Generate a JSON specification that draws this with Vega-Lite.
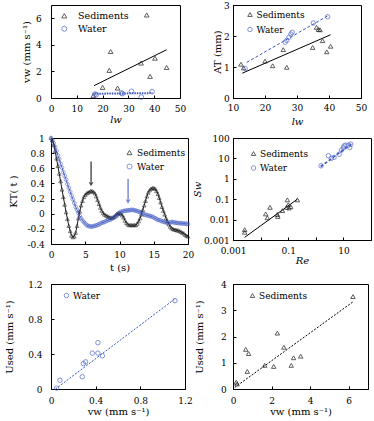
{
"$schema":"https://vega.github.io/schema/vega-lite/v6.json",
"padding":{"left":4,"top":0,"right":0,"bottom":0},
"background":"white",
"config":{
 "font":"DejaVu Serif, serif",
 "view":{"stroke":"#000","strokeWidth":1},
 "axis":{"labelFont":"DejaVu Serif, serif","titleFont":"DejaVu Serif, serif","labelFontSize":9,"titleFontSize":10,"titleFontWeight":"normal","labelColor":"#000","titleColor":"#000","domainColor":"#000","tickColor":"#000","grid":false,"tickSize":-3,"labelFlush":false,"labelOverlap":false},
 "legend":{"labelFont":"DejaVu Serif, serif","labelFontSize":9,"labelColor":"#000","padding":0,"symbolStrokeWidth":1,"labelOffset":2,"rowPadding":3},
 "text":{"font":"DejaVu Serif, serif"}
},
"columns":2,"align":"each","bounds":"flush","spacing":{"row":40,"column":45},
"resolve":{"scale":{"color":"independent","shape":"independent"},"legend":{"color":"independent","shape":"independent"}},
"datasets":{
 "aPts":[
  {"lw":16.4,"vw":0.18,"series":"Sediments"},{"lw":20.0,"vw":0.8,"series":"Sediments"},{"lw":22.6,"vw":2.08,"series":"Sediments"},{"lw":23.1,"vw":3.5,"series":"Sediments"},{"lw":25.8,"vw":0.75,"series":"Sediments"},{"lw":34.9,"vw":2.63,"series":"Sediments"},{"lw":37.1,"vw":6.25,"series":"Sediments"},{"lw":38.4,"vw":1.63,"series":"Sediments"},{"lw":40.3,"vw":3.0,"series":"Sediments"},{"lw":44.8,"vw":2.3,"series":"Sediments"},
  {"lw":17.0,"vw":0.3,"series":"Water"},{"lw":17.5,"vw":0.25,"series":"Water"},{"lw":27.3,"vw":0.38,"series":"Water"},{"lw":27.7,"vw":0.33,"series":"Water"},{"lw":31.2,"vw":0.5,"series":"Water"},{"lw":35.0,"vw":0.07,"series":"Water"},{"lw":39.2,"vw":0.48,"series":"Water"}
 ],
 "aFitS":[{"lw":16.7,"vw":0.93},{"lw":44.8,"vw":3.63}],
 "aFitW":[{"lw":16.8,"vw":0.32},{"lw":39.3,"vw":0.37}],
 "bPts":[
  {"lw":12.5,"at":1.09,"series":"Sediments"},{"lw":13.3,"at":0.97,"series":"Sediments"},{"lw":20.0,"at":1.19,"series":"Sediments"},{"lw":22.4,"at":1.04,"series":"Sediments"},{"lw":25.7,"at":1.56,"series":"Sediments"},{"lw":26.8,"at":0.99,"series":"Sediments"},{"lw":34.9,"at":1.63,"series":"Sediments"},{"lw":36.1,"at":2.28,"series":"Sediments"},{"lw":36.7,"at":2.21,"series":"Sediments"},{"lw":37.2,"at":2.2,"series":"Sediments"},{"lw":38.0,"at":1.85,"series":"Sediments"},{"lw":39.3,"at":1.49,"series":"Sediments"},{"lw":40.5,"at":1.67,"series":"Sediments"},
  {"lw":13.8,"at":0.95,"series":"Water"},{"lw":26.3,"at":1.8,"series":"Water"},{"lw":26.8,"at":1.86,"series":"Water"},{"lw":27.5,"at":1.96,"series":"Water"},{"lw":28.1,"at":2.06,"series":"Water"},{"lw":28.5,"at":2.12,"series":"Water"},{"lw":35.1,"at":2.42,"series":"Water"},{"lw":39.6,"at":2.62,"series":"Water"}
 ],
 "bFitS":[{"lw":12.9,"at":0.8},{"lw":40.5,"at":2.04}],
 "bFitW":[{"lw":14.3,"at":1.15},{"lw":39.6,"at":2.65}],
 "c":[
  {"t":0,"Sediments":1.0,"Water":1.0},{"t":0.2,"Sediments":0.97,"Water":0.97},{"t":0.4,"Sediments":0.91,"Water":0.93},{"t":0.6,"Sediments":0.83,"Water":0.88},{"t":0.8,"Sediments":0.73,"Water":0.83},
  {"t":1.0,"Sediments":0.63,"Water":0.77},{"t":1.2,"Sediments":0.53,"Water":0.72},{"t":1.4,"Sediments":0.43,"Water":0.66},{"t":1.6,"Sediments":0.32,"Water":0.61},{"t":1.8,"Sediments":0.22,"Water":0.55},
  {"t":2.0,"Sediments":0.12,"Water":0.5},{"t":2.2,"Sediments":0.02,"Water":0.45},{"t":2.4,"Sediments":-0.07,"Water":0.39},{"t":2.6,"Sediments":-0.16,"Water":0.34},{"t":2.8,"Sediments":-0.23,"Water":0.29},
  {"t":3.0,"Sediments":-0.29,"Water":0.24},{"t":3.2,"Sediments":-0.31,"Water":0.19},{"t":3.4,"Sediments":-0.3,"Water":0.14},{"t":3.6,"Sediments":-0.25,"Water":0.09},{"t":3.8,"Sediments":-0.16,"Water":0.05},
  {"t":4.0,"Sediments":-0.06,"Water":0.01},{"t":4.2,"Sediments":0.03,"Water":-0.03},{"t":4.4,"Sediments":0.11,"Water":-0.06},{"t":4.6,"Sediments":0.17,"Water":-0.09},{"t":4.8,"Sediments":0.22,"Water":-0.11},
  {"t":5.0,"Sediments":0.25,"Water":-0.13},{"t":5.2,"Sediments":0.27,"Water":-0.15},{"t":5.4,"Sediments":0.28,"Water":-0.16},{"t":5.6,"Sediments":0.29,"Water":-0.165},{"t":5.8,"Sediments":0.3,"Water":-0.17},
  {"t":6.0,"Sediments":0.3,"Water":-0.17},{"t":6.2,"Sediments":0.29,"Water":-0.165},{"t":6.4,"Sediments":0.27,"Water":-0.16},{"t":6.6,"Sediments":0.23,"Water":-0.155},{"t":6.8,"Sediments":0.18,"Water":-0.15},
  {"t":7.0,"Sediments":0.13,"Water":-0.14},{"t":7.2,"Sediments":0.08,"Water":-0.13},{"t":7.4,"Sediments":0.04,"Water":-0.12},{"t":7.6,"Sediments":0.01,"Water":-0.115},{"t":7.8,"Sediments":-0.01,"Water":-0.11},
  {"t":8.0,"Sediments":-0.02,"Water":-0.1},{"t":8.2,"Sediments":-0.03,"Water":-0.09},{"t":8.4,"Sediments":-0.04,"Water":-0.085},{"t":8.6,"Sediments":-0.05,"Water":-0.08},{"t":8.8,"Sediments":-0.05,"Water":-0.07},
  {"t":9.0,"Sediments":-0.05,"Water":-0.06},{"t":9.2,"Sediments":-0.04,"Water":-0.05},{"t":9.4,"Sediments":-0.02,"Water":-0.04},{"t":9.6,"Sediments":0.0,"Water":-0.03},{"t":9.8,"Sediments":0.01,"Water":-0.01},
  {"t":10.0,"Sediments":0.01,"Water":0.01},{"t":10.2,"Sediments":0.0,"Water":0.025},{"t":10.4,"Sediments":-0.02,"Water":0.03},{"t":10.6,"Sediments":-0.05,"Water":0.035},{"t":10.8,"Sediments":-0.09,"Water":0.04},
  {"t":11.0,"Sediments":-0.12,"Water":0.04},{"t":11.2,"Sediments":-0.14,"Water":0.045},{"t":11.4,"Sediments":-0.15,"Water":0.045},{"t":11.6,"Sediments":-0.15,"Water":0.05},{"t":11.8,"Sediments":-0.15,"Water":0.05},
  {"t":12.0,"Sediments":-0.15,"Water":0.05},{"t":12.2,"Sediments":-0.15,"Water":0.045},{"t":12.4,"Sediments":-0.15,"Water":0.04},{"t":12.6,"Sediments":-0.13,"Water":0.035},{"t":12.8,"Sediments":-0.1,"Water":0.03},
  {"t":13.0,"Sediments":-0.06,"Water":0.02},{"t":13.2,"Sediments":-0.01,"Water":0.01},{"t":13.4,"Sediments":0.05,"Water":0.0},{"t":13.6,"Sediments":0.11,"Water":-0.01},{"t":13.8,"Sediments":0.17,"Water":-0.015},
  {"t":14.0,"Sediments":0.23,"Water":-0.02},{"t":14.2,"Sediments":0.28,"Water":-0.025},{"t":14.4,"Sediments":0.31,"Water":-0.03},{"t":14.6,"Sediments":0.33,"Water":-0.035},{"t":14.8,"Sediments":0.34,"Water":-0.04},
  {"t":15.0,"Sediments":0.34,"Water":-0.05},{"t":15.2,"Sediments":0.33,"Water":-0.06},{"t":15.4,"Sediments":0.3,"Water":-0.07},{"t":15.6,"Sediments":0.26,"Water":-0.08},{"t":15.8,"Sediments":0.21,"Water":-0.085},
  {"t":16.0,"Sediments":0.15,"Water":-0.09},{"t":16.2,"Sediments":0.09,"Water":-0.1},{"t":16.4,"Sediments":0.04,"Water":-0.105},{"t":16.6,"Sediments":-0.01,"Water":-0.11},{"t":16.8,"Sediments":-0.06,"Water":-0.115},
  {"t":17.0,"Sediments":-0.1,"Water":-0.12},{"t":17.2,"Sediments":-0.14,"Water":-0.12},{"t":17.4,"Sediments":-0.17,"Water":-0.115},{"t":17.6,"Sediments":-0.19,"Water":-0.11},{"t":17.8,"Sediments":-0.2,"Water":-0.11},
  {"t":18.0,"Sediments":-0.21,"Water":-0.115},{"t":18.2,"Sediments":-0.21,"Water":-0.12},{"t":18.4,"Sediments":-0.22,"Water":-0.12},{"t":18.6,"Sediments":-0.22,"Water":-0.125},{"t":18.8,"Sediments":-0.23,"Water":-0.125},
  {"t":19.0,"Sediments":-0.24,"Water":-0.125},{"t":19.2,"Sediments":-0.25,"Water":-0.13},{"t":19.4,"Sediments":-0.26,"Water":-0.13},{"t":19.6,"Sediments":-0.28,"Water":-0.13},{"t":19.8,"Sediments":-0.29,"Water":-0.135},
  {"t":20.0,"Sediments":-0.3,"Water":-0.135}
 ],
 "dPts":[
  {"re":0.00265,"sw":0.0032,"series":"Sediments"},{"re":0.00265,"sw":0.0024,"series":"Sediments"},{"re":0.0153,"sw":0.019,"series":"Sediments"},{"re":0.0176,"sw":0.0123,"series":"Sediments"},{"re":0.0219,"sw":0.04,"series":"Sediments"},{"re":0.0405,"sw":0.0178,"series":"Sediments"},{"re":0.042,"sw":0.0143,"series":"Sediments"},{"re":0.0617,"sw":0.0275,"series":"Sediments"},{"re":0.093,"sw":0.093,"series":"Sediments"},{"re":0.101,"sw":0.0537,"series":"Sediments"},{"re":0.107,"sw":0.037,"series":"Sediments"},{"re":0.123,"sw":0.043,"series":"Sediments"},{"re":0.087,"sw":0.04,"series":"Sediments"},{"re":0.215,"sw":0.093,"series":"Sediments"},
  {"re":1.55,"sw":4.35,"series":"Water"},{"re":2.86,"sw":13.6,"series":"Water"},{"re":3.67,"sw":10.1,"series":"Water"},{"re":4.59,"sw":11.3,"series":"Water"},{"re":6.97,"sw":15.8,"series":"Water"},{"re":8.47,"sw":25.6,"series":"Water"},{"re":10.0,"sw":33.0,"series":"Water"},{"re":10.6,"sw":41.0,"series":"Water"},{"re":12.2,"sw":44.4,"series":"Water"},{"re":15.2,"sw":44.4,"series":"Water"},{"re":17.0,"sw":34.3,"series":"Water"},{"re":18.5,"sw":50.0,"series":"Water"}
 ],
 "dFitS":[{"re":0.00265,"sw":0.00135},{"re":0.215,"sw":0.1}],
 "dFitW":[{"re":1.5,"sw":4.0},{"re":19.3,"sw":50.0}],
 "ePts":[
  {"vw":0.05,"us":0.01,"series":"Water"},{"vw":0.08,"us":0.1,"series":"Water"},{"vw":0.28,"us":0.14,"series":"Water"},{"vw":0.29,"us":0.29,"series":"Water"},{"vw":0.31,"us":0.31,"series":"Water"},{"vw":0.37,"us":0.41,"series":"Water"},{"vw":0.42,"us":0.53,"series":"Water"},{"vw":0.42,"us":0.41,"series":"Water"},{"vw":0.46,"us":0.38,"series":"Water"},{"vw":1.11,"us":1.01,"series":"Water"}
 ],
 "eFit":[{"vw":0.04,"us":0.0},{"vw":1.11,"us":1.03}],
 "fPts":[
  {"vw":0.17,"us":0.26,"series":"Sediments"},{"vw":0.21,"us":0.19,"series":"Sediments"},{"vw":0.66,"us":1.51,"series":"Sediments"},{"vw":0.81,"us":1.35,"series":"Sediments"},{"vw":0.74,"us":0.67,"series":"Sediments"},{"vw":1.64,"us":0.9,"series":"Sediments"},{"vw":2.11,"us":0.86,"series":"Sediments"},{"vw":2.3,"us":2.13,"series":"Sediments"},{"vw":2.64,"us":1.59,"series":"Sediments"},{"vw":3.02,"us":0.9,"series":"Sediments"},{"vw":3.14,"us":1.19,"series":"Sediments"},{"vw":3.51,"us":1.25,"series":"Sediments"},{"vw":6.22,"us":3.52,"series":"Sediments"}
 ],
 "fFit":[{"vw":0.09,"us":0.06},{"vw":6.22,"us":3.32}]
},
"concat":[
 {
  "width":129,"height":93,
  "encoding":{
   "x":{"field":"lw","type":"quantitative","scale":{"domain":[0,50],"nice":false},"axis":{"title":"lw","titleFontStyle":"italic","values":[0,10,20,30,40,50],"labelPadding":9,"titlePadding":1}},
   "y":{"field":"vw","type":"quantitative","scale":{"domain":[0,7],"nice":false},"axis":{"title":"vw (mm s⁻¹)","values":[0,2,4,6],"labelPadding":12.7,"titlePadding":4}}
  },
  "layer":[
   {"data":{"name":"aFitS"},"mark":{"type":"line","color":"#000","strokeWidth":1},"encoding":{}},
   {"data":{"name":"aFitW"},"mark":{"type":"line","color":"#3a55c0","strokeWidth":2,"strokeDash":[1.5,1]},"encoding":{}},
   {"data":{"name":"aPts"},"mark":{"type":"point","filled":false,"strokeWidth":1,"size":22},
    "encoding":{
     "color":{"field":"series","type":"nominal","scale":{"domain":["Sediments","Water"],"range":["#1a1a1a","#4d64c9"]},"legend":{"title":null,"orient":"none","legendX":8.5,"legendY":6,"labelFontSize":9.5,"rowPadding":2,"labelOffset":9,"symbolSize":25}},
     "shape":{"field":"series","type":"nominal","scale":{"domain":["Sediments","Water"],"range":["triangle-up","circle"]},"legend":{"title":null,"orient":"none","legendX":8.5,"legendY":6,"labelFontSize":9.5,"rowPadding":2,"labelOffset":9,"symbolSize":25}}
    }},
   {"data":{"values":[{"label":"A"}]},"mark":{"type":"text","fontSize":14,"color":"#000"},"encoding":{"x":{"datum":46.7},"y":{"datum":6.14},"text":{"field":"label"}}}
  ]
 },
 {
  "width":128,"height":93,
  "encoding":{
   "x":{"field":"lw","type":"quantitative","scale":{"domain":[10,50],"nice":false},"axis":{"title":"lw","titleFontStyle":"italic","values":[10,20,30,40,50],"labelPadding":8.7,"titlePadding":4}},
   "y":{"field":"at","type":"quantitative","scale":{"domain":[0,3],"nice":false},"axis":{"title":"AT (mm)","values":[0,1,2,3],"labelPadding":6.7,"titlePadding":1}}
  },
  "layer":[
   {"data":{"name":"bFitS"},"mark":{"type":"line","color":"#000","strokeWidth":1},"encoding":{}},
   {"data":{"name":"bFitW"},"mark":{"type":"line","color":"#3a55c0","strokeWidth":1,"strokeDash":[3,2]},"encoding":{}},
   {"data":{"name":"bPts"},"mark":{"type":"point","filled":false,"strokeWidth":1,"size":20},
    "encoding":{
     "color":{"field":"series","type":"nominal","scale":{"domain":["Sediments","Water"],"range":["#1a1a1a","#4d64c9"]},"legend":{"title":null,"orient":"none","legendX":12.5,"legendY":5,"labelFontSize":9,"rowPadding":5,"labelOffset":2,"symbolSize":20}},
     "shape":{"field":"series","type":"nominal","scale":{"domain":["Sediments","Water"],"range":["triangle-up","circle"]},"legend":{"title":null,"orient":"none","legendX":12.5,"legendY":5,"labelFontSize":9,"rowPadding":5,"labelOffset":2,"symbolSize":20}}
    }},
   {"data":{"values":[{"label":"B"}]},"mark":{"type":"text","fontSize":13,"color":"#000"},"encoding":{"x":{"datum":48.7},"y":{"datum":2.65},"text":{"field":"label"}}}
  ]
 },
 {
  "width":137,"height":106,
  "encoding":{
   "x":{"field":"t","type":"quantitative","scale":{"domain":[0,20],"nice":false},"axis":{"title":"t (s)","values":[0,5,10,15,20],"labelPadding":9.4,"titlePadding":3}},
   "y":{"field":"K","type":"quantitative","scale":{"domain":[-0.4,1],"nice":false},"axis":{"title":"KT( t )","values":[-0.4,-0.2,0,0.2,0.4,0.6,0.8,1],"format":".1~f","labelExpr":"replace(datum.label,'−','-')","labelPadding":9.7,"titlePadding":8.5}}
  },
  "layer":[
   {"data":{"name":"c"},"transform":[{"fold":["Water"],"as":["series","K"]}],"mark":{"type":"line","color":"#4d64c9","strokeWidth":1},"encoding":{}},
   {"data":{"name":"c"},"transform":[{"fold":["Sediments"],"as":["series","K"]}],"mark":{"type":"line","color":"#1a1a1a","strokeWidth":1},"encoding":{}},
   {"data":{"name":"c"},"transform":[{"fold":["Sediments","Water"],"as":["series","K"]}],"mark":{"type":"point","filled":false,"strokeWidth":0.8,"size":14},
    "encoding":{
     "color":{"field":"series","type":"nominal","scale":{"domain":["Sediments","Water"],"range":["#1a1a1a","#4d64c9"]},"legend":{"title":null,"orient":"none","legendX":74,"legendY":10,"labelFontSize":9,"rowPadding":4,"labelOffset":3,"symbolSize":25}},
     "shape":{"field":"series","type":"nominal","scale":{"domain":["Sediments","Water"],"range":["triangle-up","circle"]},"legend":{"title":null,"orient":"none","legendX":74,"legendY":10,"labelFontSize":9,"rowPadding":4,"labelOffset":3,"symbolSize":25}}
    }},
   {"data":{"values":[{"t":5.85,"K":0.69,"K2":0.42}]},"mark":{"type":"rule","color":"#000","strokeWidth":1},"encoding":{"y2":{"field":"K2"}}},
   {"data":{"values":[{"t":5.85,"K":0.39}]},"mark":{"type":"point","shape":"triangle-down","filled":true,"color":"#000","size":22},"encoding":{}},
   {"data":{"values":[{"t":11.25,"K":0.46,"K2":0.19}]},"mark":{"type":"rule","color":"#3a55c0","strokeWidth":1},"encoding":{"y2":{"field":"K2"}}},
   {"data":{"values":[{"t":11.25,"K":0.16}]},"mark":{"type":"point","shape":"triangle-down","filled":true,"color":"#3a55c0","size":22},"encoding":{}},
   {"data":{"values":[{"label":"C"}]},"mark":{"type":"text","fontSize":14,"color":"#000"},"encoding":{"x":{"datum":2.2},"y":{"datum":0.83},"text":{"field":"label"}}}
  ]
 },
 {
  "width":138,"height":102,
  "encoding":{
   "x":{"field":"re","type":"quantitative","scale":{"type":"log","domain":[0.001,100],"nice":false},"axis":{"title":"Re","titleFontStyle":"italic","values":[0.001,0.01,0.1,1,10,100],"labelExpr":"datum.value===0.001||datum.value===0.1||datum.value===10 ? format(datum.value,'~g') : ''","labelPadding":9.4,"titlePadding":0}},
   "y":{"field":"sw","type":"quantitative","scale":{"type":"log","domain":[0.001,100],"nice":false},"axis":{"title":"Sw","titleFontStyle":"italic","values":[0.001,0.01,0.1,1,10,100],"labelExpr":"format(datum.value,'~g')","labelPadding":6.8,"titlePadding":1}}
  },
  "layer":[
   {"data":{"name":"dFitS"},"mark":{"type":"line","color":"#000","strokeWidth":1},"encoding":{}},
   {"data":{"name":"dFitW"},"mark":{"type":"line","color":"#3a55c0","strokeWidth":1.6,"strokeDash":[3,2]},"encoding":{}},
   {"data":{"name":"dPts"},"mark":{"type":"point","filled":false,"strokeWidth":1,"size":20},
    "encoding":{
     "color":{"field":"series","type":"nominal","scale":{"domain":["Sediments","Water"],"range":["#1a1a1a","#4d64c9"]},"legend":{"title":null,"orient":"none","legendX":16,"legendY":11,"labelFontSize":9,"rowPadding":4.5,"labelOffset":2,"symbolSize":20}},
     "shape":{"field":"series","type":"nominal","scale":{"domain":["Sediments","Water"],"range":["triangle-up","circle"]},"legend":{"title":null,"orient":"none","legendX":16,"legendY":11,"labelFontSize":9,"rowPadding":4.5,"labelOffset":2,"symbolSize":20}}
    }},
   {"data":{"values":[{"label":"D"}]},"mark":{"type":"text","fontSize":13,"color":"#000"},"encoding":{"x":{"datum":39},"y":{"datum":0.0034},"text":{"field":"label"}}}
  ]
 },
 {
  "width":134,"height":105,
  "encoding":{
   "x":{"field":"vw","type":"quantitative","scale":{"domain":[0,1.2],"nice":false},"axis":{"title":"vw (mm s⁻¹)","values":[0,0.4,0.8,1.2],"format":".1~f","labelPadding":10,"titlePadding":1}},
   "y":{"field":"us","type":"quantitative","scale":{"domain":[0,1.2],"nice":false},"axis":{"title":"Used (mm s⁻¹)","values":[0,0.4,0.8,1.2],"format":".1~f","labelPadding":12,"titlePadding":12.8}}
  },
  "layer":[
   {"data":{"name":"eFit"},"mark":{"type":"line","color":"#3a55c0","strokeWidth":1,"strokeDash":[2,1.5]},"encoding":{}},
   {"data":{"name":"ePts"},"mark":{"type":"point","filled":false,"strokeWidth":1,"size":20},
    "encoding":{
     "color":{"field":"series","type":"nominal","scale":{"domain":["Water"],"range":["#4d64c9"]},"legend":{"title":null,"orient":"none","legendX":11,"legendY":7,"labelFontSize":9,"labelOffset":2,"symbolSize":20}},
     "shape":{"field":"series","type":"nominal","scale":{"domain":["Water"],"range":["circle"]},"legend":{"title":null,"orient":"none","legendX":11,"legendY":7,"labelFontSize":9,"labelOffset":2,"symbolSize":20}}
    }},
   {"data":{"values":[{"label":"E"}]},"mark":{"type":"text","fontSize":13,"color":"#000"},"encoding":{"x":{"datum":1.09},"y":{"datum":0.105},"text":{"field":"label"}}}
  ]
 },
 {
  "width":135,"height":105,
  "encoding":{
   "x":{"field":"vw","type":"quantitative","scale":{"domain":[0,7],"nice":false},"axis":{"title":"vw (mm s⁻¹)","values":[0,2,4,6],"labelPadding":10,"titlePadding":1}},
   "y":{"field":"us","type":"quantitative","scale":{"domain":[0,4],"nice":false},"axis":{"title":"Used (mm s⁻¹)","values":[0,1,2,3,4],"labelPadding":9.7,"titlePadding":16}}
  },
  "layer":[
   {"data":{"name":"fFit"},"mark":{"type":"line","color":"#000","strokeWidth":1,"strokeDash":[2,1.5]},"encoding":{}},
   {"data":{"name":"fPts"},"mark":{"type":"point","filled":false,"strokeWidth":1,"size":20},
    "encoding":{
     "color":{"field":"series","type":"nominal","scale":{"domain":["Sediments"],"range":["#1a1a1a"]},"legend":{"title":null,"orient":"none","legendX":15,"legendY":7,"labelFontSize":9,"labelOffset":2,"symbolSize":20}},
     "shape":{"field":"series","type":"nominal","scale":{"domain":["Sediments"],"range":["triangle-up"]},"legend":{"title":null,"orient":"none","legendX":15,"legendY":7,"labelFontSize":9,"labelOffset":2,"symbolSize":20}}
    }},
   {"data":{"values":[{"label":"F"}]},"mark":{"type":"text","fontSize":13,"color":"#000"},"encoding":{"x":{"datum":6.53},"y":{"datum":0.35},"text":{"field":"label"}}}
  ]
 }
]
}
